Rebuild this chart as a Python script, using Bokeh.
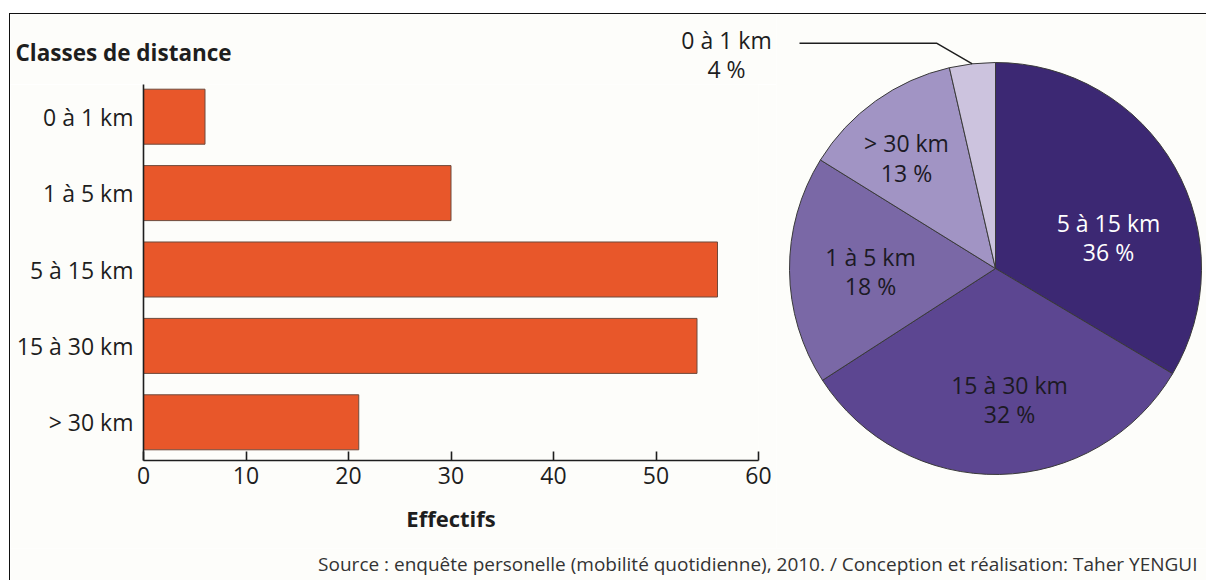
import math
from bokeh.plotting import figure
from bokeh.models import ColumnDataSource, Range1d, Label, FixedTicker
from bokeh.layouts import row, column
from bokeh.embed import file_html
from bokeh.resources import INLINE
from bokeh.core.properties import value

# ---------------- data ----------------
categories = ["0 à 1 km", "1 à 5 km", "5 à 15 km", "15 à 30 km", "> 30 km"]
effectifs = [6, 30, 56, 54, 21]
x_ticks = [0, 10, 20, 30, 40, 50, 60]

pie_order = ["5 à 15 km", "15 à 30 km", "1 à 5 km", "> 30 km", "0 à 1 km"]
pie_pct_labels = ["36 %", "32 %", "18 %", "13 %", "4 %"]
pie_colors = ["#3c2873", "#5c4691", "#7a68a6", "#a194c4", "#ccc3de"]
pie_text_colors = ["#ffffff", "#1c1a24", "#1c1a24", "#1c1a24", "#1c1a24"]

title_text = "Classes de distance"
x_title = "Effectifs"
source_text = ("Source : enquête personelle (mobilité quotidienne), 2010. / "
               "Conception et réalisation: Taher YENGUI")

# ---------------- style ----------------
FONT = "Open Sans"
BG = "#fdfdfa"
INK = "#1e1e1e"
BAR_FILL = "#e8572a"
BAR_LINE = "#6e4a3c"
FS = "23px"

# layout (page pixels)
OX, OY = 10, 14                 # top-left of the layout content
LEFT_W = 766                    # band + bar panel width
BAND_H = 70                     # top band (title, small-slice label)
ROW_H = 534
PIE_W = 430
FOOT_H = 32
FRAME_L, FRAME_R = 143, 758     # bar frame
AXIS_T, FRAME_B = 78, 460       # top of the category axis, x-axis position
FRAME_T = OY + BAND_H
BAR_H = ROW_H - BAND_H
SLOT = (FRAME_B - AXIS_T) / len(categories)


def clean(f):
    f.background_fill_color = BG
    f.border_fill_color = BG
    f.outline_line_color = None
    f.xgrid.visible = False
    f.ygrid.visible = False
    if "frame_align" in f.properties():
        f.frame_align = False


# ---------------- top band ----------------
band = figure(width=LEFT_W, height=BAND_H, x_range=Range1d(0, 1), y_range=Range1d(0, 1),
              x_axis_type=None, y_axis_type=None, output_backend="svg",
              toolbar_location=None, min_border=0)
clean(band)
band.add_layout(Label(x=15 - OX, y=FRAME_T - 52, x_units="screen", y_units="screen",
                      text=title_text, text_font=FONT, text_font_style="bold",
                      text_font_size="22.5px", text_color=INK,
                      text_align="left", text_baseline="middle"))
small_idx = len(pie_order) - 1
band.add_layout(Label(x=726 - OX, y=FRAME_T - 39, x_units="screen", y_units="screen",
                      text=pie_order[small_idx], text_font=FONT, text_font_size=FS,
                      text_color=INK, text_align="center", text_baseline="middle"))
band.add_layout(Label(x=726 - OX, y=FRAME_T - 68, x_units="screen", y_units="screen",
                      text=pie_pct_labels[small_idx], text_font=FONT, text_font_size=FS,
                      text_color=INK, text_align="center", text_baseline="middle"))

# ---------------- bar chart ----------------
ypos = list(range(len(categories), 0, -1))      # top category highest
y_lo = 0.5
y_hi = 0.5 + (FRAME_B - FRAME_T) / SLOT
bar = figure(width=LEFT_W, height=BAR_H,
             x_range=Range1d(0, 60), y_range=Range1d(y_lo, y_hi),
             output_backend="svg", toolbar_location=None,
             min_border_left=FRAME_L - OX,
             min_border_right=OX + LEFT_W - FRAME_R,
             min_border_top=0,
             min_border_bottom=OY + ROW_H - FRAME_B)
clean(bar)

src = ColumnDataSource(dict(y=ypos, val=effectifs))
bar.hbar(y="y", right="val", left=0, height=0.72, source=src,
         fill_color=BAR_FILL, line_color=BAR_LINE, line_width=1)

xa = bar.xaxis[0]
xa.ticker = FixedTicker(ticks=x_ticks)
xa.minor_tick_line_color = None
xa.major_tick_in = 9
xa.major_tick_out = 0
xa.major_tick_line_width = 1.6
xa.major_tick_line_color = INK
xa.axis_line_width = 1.6
xa.axis_line_color = INK
xa.major_label_text_font = FONT
xa.major_label_text_font_size = FS
xa.major_label_text_color = INK
xa.major_label_standoff = 6
xa.axis_label = x_title
xa.axis_label_text_font = FONT
xa.axis_label_text_font_style = "bold"
xa.axis_label_text_font_size = "22px"
xa.axis_label_text_color = INK
xa.axis_label_standoff = 16

ya = bar.yaxis[0]
ya.ticker = FixedTicker(ticks=ypos)
ya.major_label_overrides = {p: c for p, c in zip(ypos, categories)}
ya.bounds = (0.5, len(categories) + 0.5)
ya.major_tick_in = 0
ya.major_tick_out = 0
ya.minor_tick_line_color = None
ya.axis_line_width = 1.6
ya.axis_line_color = INK
ya.major_label_text_font = FONT
ya.major_label_text_font_size = FS
ya.major_label_text_color = INK
ya.major_label_standoff = 10

# ---------------- pie chart ----------------
CX, CY, R = 995, 268, 206            # pie centre / radius (page pixels)
pie_x0 = OX + LEFT_W
x_lo = (pie_x0 - CX) / R
x_hi = (pie_x0 + PIE_W - CX) / R
py_hi = (CY - OY) / R
py_lo = (CY - (OY + ROW_H)) / R

pie = figure(width=PIE_W, height=ROW_H,
             x_range=Range1d(x_lo, x_hi), y_range=Range1d(py_lo, py_hi),
             x_axis_type=None, y_axis_type=None,
             output_backend="svg", toolbar_location=None, min_border=0)
clean(pie)

cnt = dict(zip(categories, effectifs))
pie_vals = [cnt[c] for c in pie_order]
total = float(sum(pie_vals))
starts, ends, mids = [], [], []
acc = 0.0
for v in pie_vals:
    a0 = math.pi / 2 - 2 * math.pi * (acc + v) / total
    a1 = math.pi / 2 - 2 * math.pi * acc / total
    starts.append(a0)
    ends.append(a1)
    mids.append((a0 + a1) / 2)
    acc += v

pie.wedge(x=0, y=0, radius=1, start_angle=starts, end_angle=ends,
          fill_color=pie_colors, line_color="#3a3a3a", line_width=1)

# leader line for the smallest slice
lead_y = (CY - 42.7) / R
ex, ey = math.cos(mids[small_idx]), math.sin(mids[small_idx])
pie.line(x=[(799 - CX) / R, (936 - CX) / R, ex], y=[lead_y, lead_y, ey],
         line_color=INK, line_width=1.5)

# in-slice labels: (x, y of name line, y of percent line) in page pixels
lab_pos = {"5 à 15 km": (1108, 222.7, 251.7), "15 à 30 km": (1009, 384.3, 413.3),
           "1 à 5 km": (870, 256, 285), "> 30 km": (906, 142.7, 172.7)}
lx, ny, py, names, pcts, lc = [], [], [], [], [], []
for i, c in enumerate(pie_order[:-1]):
    px, y1, y2 = lab_pos[c]
    lx.append((px - CX) / R)
    ny.append((CY - y1) / R)
    py.append((CY - y2) / R)
    names.append(c)
    pcts.append(pie_pct_labels[i])
    lc.append(pie_text_colors[i])
pie.text(x=lx, y=ny, text=names, text_color=lc, text_font=value(FONT),
         text_font_size=FS, text_align="center", text_baseline="middle")
pie.text(x=lx, y=py, text=pcts, text_color=lc, text_font=value(FONT),
         text_font_size=FS, text_align="center", text_baseline="middle")

# ---------------- footer ----------------
foot = figure(width=LEFT_W + PIE_W, height=FOOT_H,
              x_range=Range1d(0, 1), y_range=Range1d(0, 1),
              x_axis_type=None, y_axis_type=None,
              output_backend="svg", toolbar_location=None, min_border=0)
clean(foot)
foot.add_layout(Label(x=1197 - OX, y=FOOT_H - 15, x_units="screen", y_units="screen",
                      text=source_text, text_font=FONT, text_font_size="19px",
                      text_color="#333333", text_align="right", text_baseline="middle"))

layout = column(row(column(band, bar), pie), foot,
                styles={"border-top": "1.5px solid #111111",
                        "border-left": "1.5px solid #111111",
                        "margin-top": "12.5px", "margin-left": "8.5px"})

open("out.html", "w").write(file_html(layout, INLINE))
